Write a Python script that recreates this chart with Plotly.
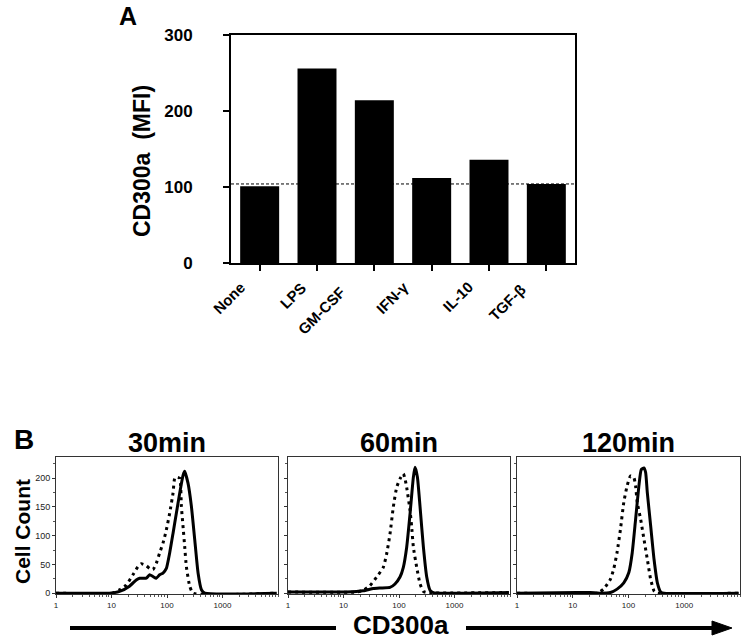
import plotly.graph_objects as go

# ---------------- DATA ----------------
# Panel A
categories = ["None", "LPS", "GM-CSF", "IFN-γ", "IL-10", "TGF-β"]
mfi_values = [101, 256, 214, 112, 136, 104]
reference_level = 104
a_ticks = [0, 100, 200, 300]

# Panel B histograms (CD300a fluorescence, cell count)
hist_titles = ["30min", "60min", "120min"]
b_xtick_vals = [1, 10, 100, 1000]
b_xtick_text = ["1", "10", "100", "1000"]
b_ytick_vals = [0, 50, 100, 150, 200]

# 30 min
s30_x = [1, 9.2, 14.0, 21.1, 27.9, 32.1, 42.3, 48.6, 55.8, 64.1, 73.7, 84.7, 97.3,
         111.7, 128.3, 147.4, 169.3, 194.5, 208.4, 239.6, 275.2, 316, 363, 417, 479, 9500]
s30_y = [0, 0, 3, 12, 23, 26, 26, 32, 29, 26, 32, 35, 43,
         70, 104, 139, 174, 205, 212, 191, 151, 93, 35, 6, 0, 0]
d30_x = [1, 10.6, 14.0, 18.4, 24.3, 29.9, 34.4, 42.3, 48.6, 55.8, 64.1, 73.7, 84.7,
         97.3, 111.7, 128.3, 137.6, 147.4, 169.3, 181.5, 194.5, 208.4, 223.4, 256.8, 295, 9500]
d30_y = [0, 0, 6, 14, 32, 46, 51, 48, 43, 41, 52, 70, 87,
         110, 139, 174, 200, 202, 200, 151, 116, 81, 46, 12, 0, 0]

# 60 min
s60_x = [1, 11.3, 22.7, 34.4, 45.4, 68.8, 84.7, 104.2, 119.7, 137.6, 158.1, 181.6,
         194.5, 214.5, 239.6, 275.2, 316, 363, 417, 9500]
s60_y = [2, 2, 4, 8, 9, 10, 16, 28, 45, 80, 138, 202,
         219, 202, 150, 80, 28, 5, 1, 1]
d60_x = [1, 17.2, 22.7, 29.9, 39.5, 52.1, 59.8, 68.8, 79.0, 90.7, 104.2, 119.7,
         128.3, 137.6, 158.1, 169.3, 181.6, 208.4, 239.6, 275.2, 316, 9500]
d60_y = [2, 2, 5, 13, 28, 45, 68, 103, 150, 184, 199, 208,
         199, 184, 144, 115, 80, 45, 16, 3, 1, 1]

# 120 min
s120_x = [1, 11.8, 20.6, 30, 47.3, 62.4, 82.3, 101.4, 116.5, 133.9, 153.7, 169.3,
          189.3, 203, 217.5, 249.8, 287, 329.6, 378.7, 435, 9500]
s120_y = [0, 1, 1, 0, 1, 7, 18, 36, 70, 128, 187, 215,
          218, 210, 175, 117, 59, 18, 2, 0, 0]
d120_x = [1, 27.2, 35.8, 47.3, 54.3, 62.4, 71.7, 82.3, 94.6, 108.7, 124.8, 133.9,
          143.4, 164.8, 189.3, 217.5, 249.8, 287, 329.6, 9500]
d120_y = [0, 0, 7, 24, 42, 71, 111, 158, 187, 204, 201, 187,
          158, 129, 94, 59, 24, 4, 0, 0]

solid_series = [(s30_x, s30_y), (s60_x, s60_y), (s120_x, s120_y)]
dotted_series = [(d30_x, d30_y), (d60_x, d60_y), (d120_x, d120_y)]

# ---------------- STYLE / LAYOUT ----------------
W, H = 745, 639
def PX(px):
    return px / W
def PY(py):
    return 1 - py / H

FONT = "Liberation Sans, Arial, sans-serif"
# per-label offsets (px) for rotated category labels of panel A
label_offsets = [(-8, 12), (-5, 13), (-23, 18), (-17, 12), (-10, 12), (-15, 15)]

fig = go.Figure()

fig.add_trace(go.Bar(x=categories, y=mfi_values, width=0.68,
                     marker=dict(color="black", line=dict(width=0)),
                     xaxis="x", yaxis="y", showlegend=False))

for i in range(3):
    ax = str(i + 2)
    dx, dy = dotted_series[i]
    sx, sy = solid_series[i]
    fig.add_trace(go.Scatter(x=dx, y=dy, mode="lines",
                             line=dict(color="black", width=3, dash="3px,4px",
                                       shape="spline", smoothing=0.5),
                             xaxis="x" + ax, yaxis="y" + ax, showlegend=False))
    fig.add_trace(go.Scatter(x=sx, y=sy, mode="lines",
                             line=dict(color="black", width=3,
                                       shape="spline", smoothing=0.5),
                             xaxis="x" + ax, yaxis="y" + ax, showlegend=False))

layout = dict(
    width=W, height=H, autosize=False,
    margin=dict(l=0, r=0, t=0, b=0, pad=0, autoexpand=False),
    paper_bgcolor="white", plot_bgcolor="white",
    font=dict(family=FONT, color="black"),
    showlegend=False,
    xaxis=dict(domain=[PX(231), PX(575)], range=[-0.5, 5.5], anchor="y",
               showline=True, linecolor="black", linewidth=2, mirror=True,
               ticks="outside", ticklen=6, tickwidth=2, tickcolor="black",
               showticklabels=False, showgrid=False, zeroline=False, automargin=False),
    yaxis=dict(domain=[PY(263), PY(35)], range=[0, 300], anchor="x",
               showline=True, linecolor="black", linewidth=2, mirror=True,
               tickvals=a_ticks, ticks="outside", ticklen=6, tickwidth=2,
               tickcolor="black", ticklabelstandoff=27, automargin=False,
               tickfont=dict(size=17, family=FONT, weight="bold", color="black"),
               showgrid=False, zeroline=False),
)

b_domains = [(56, 278), (288, 510), (517, 740)]
for i, (l, r) in enumerate(b_domains):
    ax = str(i + 2)
    layout["xaxis" + ax] = dict(
        domain=[PX(l), PX(r)], type="log", range=[0, 4], anchor="y" + ax,
        showline=True, linecolor="#333", linewidth=1, mirror=True,
        tickvals=b_xtick_vals, ticktext=b_xtick_text, automargin=False,
        ticks="outside", ticklen=3, tickcolor="#333",
        minor=dict(ticks="outside", ticklen=2, tickcolor="#555", dtick="D1", showgrid=False),
        tickfont=dict(size=8, color="#222", family=FONT),
        showgrid=False, zeroline=False)
    layout["yaxis" + ax] = dict(
        domain=[PY(594), PY(457)], range=[-1.5, 237], anchor="x" + ax,
        showline=True, linecolor="#333", linewidth=1, mirror=True,
        tickvals=b_ytick_vals, ticks="outside", ticklen=3, tickcolor="#333",
        minor=dict(ticks="outside", ticklen=2, tickcolor="#555", dtick=25, showgrid=False),
        showticklabels=(i == 0), automargin=False,
        tickfont=dict(size=9, color="#222", family=FONT),
        showgrid=False, zeroline=False)

fig.update_layout(**layout)

def paper_text(x, y, text, size, angle=0):
    return dict(x=PX(x), y=PY(y), xref="paper", yref="paper", text=text,
                textangle=angle, showarrow=False, xanchor="center", yanchor="middle",
                font=dict(size=size, family=FONT, weight="bold", color="black"))

annotations = []
for cat, (ox, oy) in zip(categories, label_offsets):
    annotations.append(dict(x=cat, y=0, xref="x", yref="y", text=cat,
                            textangle=-45, showarrow=False, xanchor="right",
                            yanchor="top", xshift=ox, yshift=-oy,
                            font=dict(size=15, family=FONT, weight="bold")))
annotations.append(paper_text(142, 161, "CD300a  (MFI)", 23, -90))
annotations.append(paper_text(128, 16, "A", 25))
annotations.append(paper_text(24, 439, "B", 28))
for (l, r), t in zip(b_domains, hist_titles):
    annotations.append(paper_text((l + r) / 2, 443, t, 27))
annotations.append(paper_text(22, 532, "Cell Count", 21, -90))
annotations.append(paper_text(401, 624.5, "CD300a", 26))
fig.update_layout(annotations=annotations)

shapes = [
    dict(type="line", xref="x domain", yref="y", x0=0, x1=1,
         y0=reference_level, y1=reference_level,
         line=dict(color="black", width=1, dash="3px,2px")),
    dict(type="line", xref="paper", yref="paper", x0=PX(70), x1=PX(336),
         y0=PY(628), y1=PY(628), line=dict(color="black", width=4)),
    dict(type="line", xref="paper", yref="paper", x0=PX(466), x1=PX(714),
         y0=PY(628), y1=PY(628), line=dict(color="black", width=4)),
    dict(type="path", xref="paper", yref="paper",
         path=f"M {PX(712)} {PY(621)} L {PX(732)} {PY(628)} L {PX(712)} {PY(635)} Z",
         fillcolor="black", line=dict(color="black", width=1)),
]
fig.update_layout(shapes=shapes)

fig.write_html("out.html", config={"displayModeBar": False},
               post_script="document.body.style.margin='0';document.body.style.padding='0';")
